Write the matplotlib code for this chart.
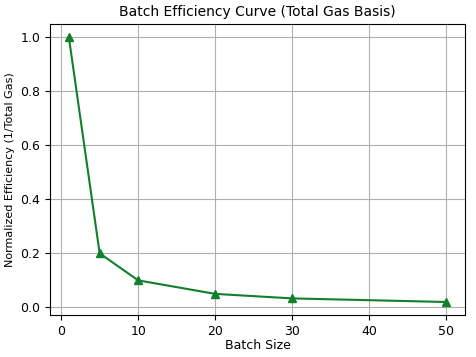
import matplotlib
matplotlib.use("Agg")
import matplotlib.pyplot as plt

# Données
batch_sizes = [1, 5, 10, 20, 30, 50]
efficiency = [1.0, 0.2, 0.1, 0.05, 0.0333, 0.02]

fig, ax = plt.subplots(figsize=(4.76, 3.57), dpi=100)

ax.plot(batch_sizes, efficiency, marker='^', color='#10802a', markersize=6, linewidth=1.5)

ax.set_title("Batch Efficiency Curve (Total Gas Basis)", fontsize=10)
ax.set_xlabel("Batch Size", fontsize=9, labelpad=1)
ax.set_ylabel("Normalized Efficiency (1/Total Gas)", fontsize=8)
ax.tick_params(labelsize=9)
ax.grid(True)

plt.subplots_adjust(left=0.105, right=0.977, top=0.933, bottom=0.117)
plt.savefig("out.png", dpi=100)
